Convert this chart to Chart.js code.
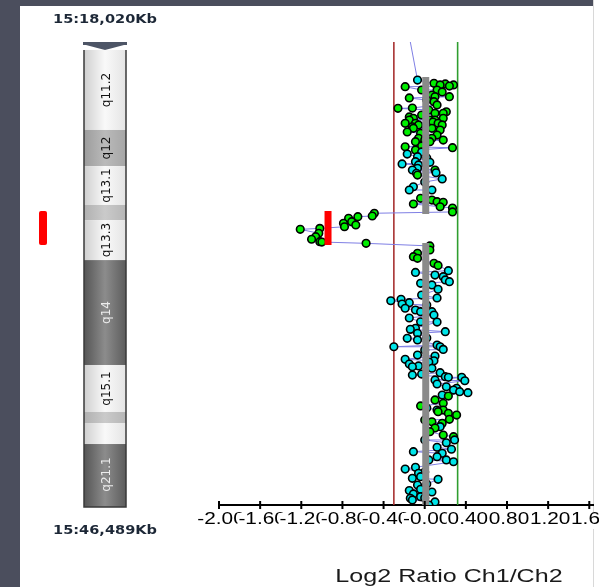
<!DOCTYPE html>
<html>
<head>
<meta charset="utf-8">
<title>Log2 Ratio Ch1/Ch2 - chr15</title>
<script src="https://cdn.jsdelivr.net/npm/chart.js@4"></script>
<style>
  html, body { margin: 0; padding: 0; background: #fff; overflow: hidden; }
  #wrap { position: relative; width: 599px; height: 587px; }
  .bgLeft { position: absolute; left: 0; top: 0; width: 20px; height: 587px; background: #4b4e5d; }
  .bgTop { position: absolute; left: 0; top: 0; width: 593px; height: 6px; background: #4b4e5d; }
  .edge { position: absolute; left: 593px; top: 0; width: 1px; height: 587px; background: #d8d8d8; }
  canvas { position: absolute; left: 0; top: 0; }
</style>
</head>
<body>
<div id="wrap">
  <div class="bgLeft"></div>
  <div class="bgTop"></div>
  <div class="edge"></div>
  <canvas id="chart" width="599" height="587"></canvas>
</div>
<script>
// ================= DATA =================
const chromName = "15";
const viewStartKb = 18020;
const viewEndKb = 46489;

// x axis ticks
const tickValues = [-2.0, -1.6, -1.2, -0.8, -0.4, 0.0, 0.4, 0.8, 1.2, 1.6];
const tickLabels = ["-2.00", "-1.60", "-1.20", "-0.80", "-0.40", "-0.00", "0.40", "0.80", "1.20", "1.60"];

// cytobands (Mb)
const bandNames   = ["", "q11.2", "q12", "q13.1", "", "q13.3", "q14", "q15.1", "", "", "q21.1"];
const bandStartMb = [18.02, 18.51, 23.43, 25.65, 28.04, 28.97, 31.43, 37.88, 40.77, 41.45, 42.74];
const bandEndMb   = [18.51, 23.43, 25.65, 28.04, 28.97, 31.43, 37.88, 40.77, 41.45, 42.74, 46.49];
const bandStain   = ["acen", "gneg", "gpos50", "gneg", "gpos25", "gneg", "gpos75", "gneg", "gpos25", "gneg", "gpos75"];

// probes (Mb); type g = green, c = cyan, n = no marker
const positionsMb = [
  18.02, 20.36, 20.56, 20.60, 20.66, 20.66, 20.73, 20.77, 20.97, 21.28,
  21.38, 21.38, 21.69, 21.89, 22.10, 22.20, 22.31, 22.40, 22.40, 22.71,
  22.71, 22.82, 22.82, 22.82, 23.02, 23.02, 23.02, 23.12, 23.12, 23.23,
  23.33, 23.33, 23.43, 23.63, 23.94, 23.94, 24.15, 24.15, 24.46, 24.52,
  24.66, 24.91, 25.07, 25.38, 25.42, 25.52, 25.58, 25.79, 25.89, 26.06,
  26.09, 26.20, 26.44, 26.92, 27.12, 27.63, 27.74, 27.84, 27.88, 27.98,
  28.15, 28.23, 28.47, 28.55, 28.72, 28.76, 28.86, 29.07, 29.17, 29.27,
  29.38, 29.48, 29.54, 29.78, 29.99, 30.15, 30.30, 30.32, 30.40, 30.56,
  30.81, 31.01, 31.22, 31.32, 31.63, 31.76, 32.08, 32.19, 32.35, 32.45,
  32.65, 32.76, 32.86, 32.96, 33.23, 33.84, 33.93, 34.05, 34.13, 34.39,
  34.50, 34.60, 34.60, 34.81, 35.22, 35.62, 35.69, 35.83, 35.93, 36.24,
  36.34, 36.65, 36.76, 36.76, 36.92, 37.27, 37.33, 37.53, 37.62, 37.82,
  37.94, 37.99, 38.08, 38.35, 38.50, 38.60, 38.64, 38.64, 38.85, 39.05,
  39.22, 39.31, 39.42, 39.52, 39.58, 39.79, 40.03, 40.24, 40.40, 40.65,
  40.75, 40.85, 40.96, 41.22, 41.37, 41.47, 41.67, 41.98, 42.19, 42.29,
  42.49, 42.66, 42.94, 43.06, 43.21, 43.31, 43.52, 43.72, 43.83, 44.17,
  44.28, 44.54, 44.75, 44.85, 44.91, 45.26, 45.52, 45.60, 45.81, 45.98,
  46.08, 46.18, 46.30, 46.49,
  // probes close to the segment line
  22.63, 22.51, 23.31, 23.74, 23.55, 24.05, 24.05, 24.41, 22.08, 20.97,
  21.59, 21.09, 21.46, 22.94, 24.78, 25.15, 25.89, 26.63, 27.12, 33.58,
  33.76, 34.19, 34.99, 35.24, 36.22, 36.96, 37.70, 38.44, 38.80, 39.73,
  40.52, 42.49, 43.72, 44.46, 45.20, 45.69, 46.06, 41.26, 41.75, 40.65
];
const log2Ratios = [
  -0.14, -0.07, 0.09, 0.20, 0.15, 0.28, 0.24, -0.19, -0.03, 0.07,
  0.10, 0.24, 0.09, 0.12, -0.26, 0.04, 0.21, 0.10, 0.18, -0.11,
  0.18, -0.15, 0.05, 0.10, -0.19, -0.09, 0.13, -0.06, 0.17, -0.12,
  -0.11, 0.07, 0.15, -0.04, -0.06, 0.07, -0.09, 0.05, -0.19, 0.27,
  -0.09, -0.17, -0.07, -0.09, 0.05, -0.22, -0.06, -0.07, 0.10, 0.11,
  -0.08, -0.07, 0.17, -0.11, -0.15, -0.04, 0.07, 0.12, 0.18, -0.11,
  0.15, 0.27, 0.27, -0.49, -0.51, -0.65, -0.74, -0.71, -0.79, -0.67,
  -0.78, -1.02, -1.21, -1.03, -1.06, -1.10, -1.02, -1.00, -0.57, 0.05,
  0.05, -0.07, -0.11, -0.07, 0.09, 0.13, 0.23, -0.09, 0.10, 0.18,
  0.20, 0.24, -0.04, 0.07, 0.13, -0.23, -0.33, -0.15, -0.22, -0.19,
  -0.09, -0.04, 0.07, 0.09, -0.04, -0.09, -0.14, 0.20, -0.07, -0.17,
  -0.07, 0.12, -0.30, 0.15, 0.18, -0.07, 0.10, -0.19, 0.09, -0.15,
  -0.06, -0.12, 0.07, 0.15, -0.12, 0.20, 0.23, 0.36, 0.39, 0.12,
  0.21, 0.31, 0.28, 0.34, 0.42, 0.23, 0.10, 0.18, -0.04, 0.12,
  0.13, 0.23, 0.31, 0.24, 0.07, 0.17, 0.15, 0.05, 0.18, 0.28,
  0.29, 0.21, 0.12, 0.26, -0.11, 0.17, 0.12, 0.21, 0.28, -0.09,
  -0.19, -0.06, -0.04, -0.12, 0.13, -0.07, -0.04, -0.15, -0.11, -0.04,
  -0.14, -0.12, 0.10, 0.04,
  -0.15, -0.03, 0.02, 0.12, -0.17, 0.00, 0.18, -0.03, -0.12, 0.12,
  0.02, 0.17, -0.15, 0.08, -0.03, 0.02, -0.12, 0.00, 0.07, -0.03,
  0.12, 0.02, -0.15, 0.12, 0.02, 0.00, 0.04, -0.03, 0.10, 0.17,
  0.02, 0.00, 0.04, 0.00, 0.02, 0.07, 0.00, 0.00, 0.10, 0.18
];
const probeType = [
  "n", "c", "g", "g", "g", "g", "g", "g", "g", "g",
  "g", "g", "g", "g", "g", "g", "g", "g", "g", "g",
  "g", "g", "g", "g", "g", "g", "g", "g", "g", "g",
  "g", "g", "g", "g", "g", "g", "g", "g", "g", "g",
  "g", "c", "c", "c", "c", "c", "c", "c", "g", "c",
  "c", "g", "c", "c", "c", "g", "g", "g", "g", "g",
  "g", "g", "g", "g", "g", "g", "g", "g", "g", "g",
  "g", "g", "g", "g", "g", "g", "g", "g", "g", "g",
  "g", "g", "g", "g", "g", "g", "c", "c", "c", "c",
  "c", "c", "c", "c", "c", "c", "c", "c", "c", "c",
  "c", "c", "c", "c", "c", "c", "c", "c", "c", "c",
  "c", "c", "c", "c", "c", "c", "c", "c", "c", "c",
  "c", "c", "c", "c", "c", "c", "c", "c", "c", "c",
  "c", "c", "c", "c", "c", "g", "g", "g", "g", "c",
  "g", "g", "g", "g", "g", "g", "c", "g", "g", "g",
  "c", "c", "c", "c", "c", "c", "c", "c", "c", "c",
  "c", "c", "c", "c", "c", "c", "c", "c", "c", "c",
  "c", "c", "c", "c",
  "g", "g", "g", "g", "g", "g", "g", "g", "g", "g",
  "g", "g", "g", "g", "c", "c", "c", "c", "c", "c",
  "c", "c", "c", "c", "c", "c", "c", "c", "c", "c",
  "c", "c", "c", "c", "c", "c", "c", "g", "g", "g"
];

// segment means
const segStartMb = [20.17, 28.41, 30.38];
const segEndMb   = [28.60, 30.50, 46.49];
const segMean    = [0.01, -0.94, 0.01];
const segCall    = ["none", "loss", "none"];

// thresholds
const thresholdValues = [-0.30, 0.32];

// ================= STYLES =================
const probeColors = { g: "#00ee00", c: "#00e4e8", n: "rgba(0,0,0,0)" };
const thresholdColors = ["#a83232", "#2f9e2f"];
const stainShades = {
  gneg:   ["#cfcfcf", "#f9f9f9", "#e4e4e4"],
  gpos25: ["#b0b0b0", "#cacaca", "#b6b6b6"],
  gpos50: ["#9c9c9c", "#bababa", "#a6a6a6"],
  gpos75: ["#555555", "#8c8c8c", "#5c5c5c"]
};

// ================= DATASETS =================
// probes in genome order
const order = positionsMb.map((p, i) => i).sort((a, b) => positionsMb[a] - positionsMb[b]);
const probePoints = order.map(i => ({ x: log2Ratios[i], y: positionsMb[i] }));
const probeTypes = order.map(i => probeType[i]);
const yMin = viewStartKb / 1000;
const yMax = viewEndKb / 1000;

const datasets = [];

segMean.forEach((m, i) => {
  datasets.push({
    data: [{ x: m, y: segStartMb[i] }, { x: m, y: segEndMb[i] }],
    showLine: true,
    borderColor: segCall[i] === "loss" ? "#ff0000" : "#8a8a8a",
    borderWidth: 7,
    borderCapStyle: "butt",
    pointRadius: 0,
    order: 0
  });
});

datasets.push({
  data: probePoints,
  pointRadius: probeTypes.map(t => t === "n" ? 0 : 3.8),
  pointBackgroundColor: probeTypes.map(t => probeColors[t]),
  pointBorderColor: probeTypes.map(t => t === "n" ? "rgba(0,0,0,0)" : "#000"),
  pointBorderWidth: 1.6,
  order: 1
});

datasets.push({
  data: probePoints,
  showLine: true,
  borderColor: "#7f7fe4",
  borderWidth: 1,
  pointRadius: 0,
  order: 2
});

thresholdValues.forEach((t, i) => {
  datasets.push({
    data: [{ x: t, y: yMin }, { x: t, y: yMax }],
    showLine: true,
    borderColor: thresholdColors[i],
    borderWidth: 1.6,
    pointRadius: 0,
    order: 3
  });
});

// ================= OVERLAY (ideogram, axis labels) =================
function stretchedText(ctx, text, x, y, sx) {
  ctx.save();
  ctx.translate(x, y);
  ctx.scale(sx, 1);
  ctx.fillText(text, 0, 0);
  ctx.restore();
}

const overlay = {
  id: "overlay",
  afterDraw(chart) {
    const ctx = chart.ctx;
    const xs = chart.scales.x;
    const ys = chart.scales.y;
    const left = 84, right = 126, mid = (left + right) / 2;
    ctx.save();

    // bands
    let chromTop = null, chromBottom = null;
    bandNames.forEach((name, i) => {
      const y0 = ys.getPixelForValue(bandStartMb[i]);
      const y1 = ys.getPixelForValue(bandEndMb[i]);
      if (bandStain[i] === "acen") {
        ctx.fillStyle = "#4d5566";
        ctx.fillRect(left - 1, y0, right - left + 2, 3);
        ctx.beginPath();
        ctx.moveTo(left + 2, y0 + 3);
        ctx.lineTo(right - 2, y0 + 3);
        ctx.lineTo(mid, y1);
        ctx.closePath();
        ctx.fill();
        return;
      }
      if (chromTop === null) chromTop = y0;
      chromBottom = y1 + 2;
      const s = stainShades[bandStain[i]];
      const g = ctx.createLinearGradient(left, 0, right, 0);
      g.addColorStop(0, s[0]);
      g.addColorStop(0.5, s[1]);
      g.addColorStop(1, s[2]);
      ctx.fillStyle = g;
      ctx.fillRect(left, y0, right - left, (i === bandNames.length - 1 ? chromBottom : y1) - y0);
    });

    ctx.strokeStyle = "#3a3a3a";
    ctx.lineWidth = 1.5;
    ctx.beginPath();
    ctx.moveTo(left, chromTop);
    ctx.lineTo(left, chromBottom);
    ctx.lineTo(right, chromBottom);
    ctx.lineTo(right, chromTop);
    ctx.stroke();

    // band labels
    ctx.font = '12px "DejaVu Sans"';
    ctx.textAlign = "center";
    ctx.textBaseline = "middle";
    bandNames.forEach((name, i) => {
      if (!name) return;
      const yc = (ys.getPixelForValue(bandStartMb[i]) + ys.getPixelForValue(bandEndMb[i])) / 2;
      ctx.save();
      ctx.translate(107, yc);
      ctx.rotate(-Math.PI / 2);
      ctx.fillStyle = bandStain[i] === "gpos75" ? "#ececec" : "#111";
      ctx.fillText(name, 0, 0);
      ctx.restore();
    });

    // call marker next to ideogram
    ctx.fillStyle = "#ff0000";
    segCall.forEach((c, i) => {
      if (c !== "loss") return;
      const y0 = ys.getPixelForValue(segStartMb[i]);
      const y1 = ys.getPixelForValue(segEndMb[i]);
      ctx.beginPath();
      ctx.roundRect(39, y0, 8, y1 - y0, 2);
      ctx.fill();
    });

    // view range labels
    ctx.font = 'bold 13px "DejaVu Sans"';
    ctx.fillStyle = "#1c2736";
    stretchedText(ctx, chromName + ":" + viewStartKb.toLocaleString("en-US") + "Kb", mid, 20, 1.12);
    stretchedText(ctx, chromName + ":" + viewEndKb.toLocaleString("en-US") + "Kb", mid, 531, 1.12);

    // x tick marks + labels
    const base = chart.chartArea.bottom;
    ctx.strokeStyle = "#000";
    ctx.lineWidth = 2;
    tickValues.forEach(v => {
      const px = xs.getPixelForValue(v);
      ctx.beginPath();
      ctx.moveTo(px, base - 4);
      ctx.lineTo(px, base + 4);
      ctx.stroke();
    });
    ctx.font = '16px "Liberation Sans", Arial';
    tickValues.forEach((v, i) => {
      const px = xs.getPixelForValue(v) + 2;
      const w = ctx.measureText(tickLabels[i]).width * 1.3;
      ctx.fillStyle = "#fff";
      ctx.fillRect(px - w / 2 - 1, base + 8, w + 2, 16);
      ctx.fillStyle = "#000";
      stretchedText(ctx, tickLabels[i], px, base + 15, 1.3);
    });

    // axis title
    ctx.font = '19px "Liberation Sans", Arial';
    ctx.fillStyle = "#1a1a1a";
    stretchedText(ctx, "Log2 Ratio Ch1/Ch2", 449, 577, 1.32);

    ctx.restore();
  }
};

// ================= CHART =================
new Chart(document.getElementById("chart"), {
  type: "scatter",
  data: { datasets },
  options: {
    responsive: false,
    animation: false,
    events: [],
    layout: { padding: { left: 219, right: 0, top: 42, bottom: 82 } },
    plugins: {
      legend: { display: false },
      tooltip: { enabled: false }
    },
    scales: {
      x: {
        type: "linear",
        min: -2.0,
        max: 1.64,
        afterBuildTicks: s => { s.ticks = tickValues.map(v => ({ value: v })); },
        ticks: { display: false },
        grid: { display: false, drawTicks: false },
        border: { display: true, color: "#000", width: 2 }
      },
      y: {
        type: "linear",
        reverse: true,
        min: yMin,
        max: yMax,
        display: false
      }
    }
  },
  plugins: [overlay]
});
</script>
</body>
</html>
